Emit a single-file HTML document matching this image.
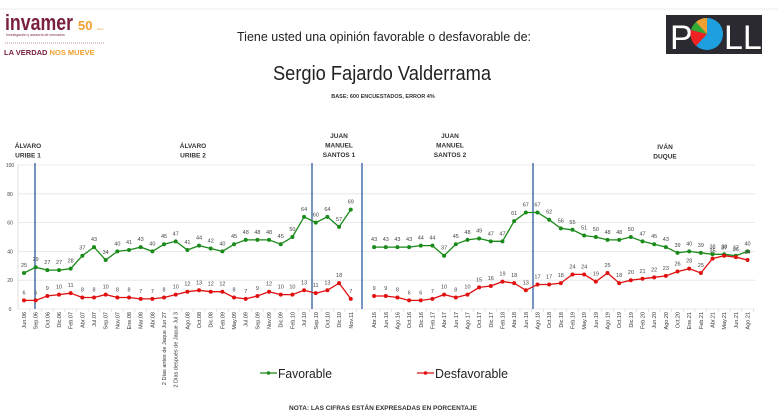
<!DOCTYPE html>
<html><head><meta charset="utf-8"><style>
body{margin:0;width:778px;height:420px;background:#fff;overflow:hidden;font-family:"Liberation Sans",sans-serif}
svg{position:absolute;left:0;top:0}
</style></head><body>
<svg id="s" width="778" height="420" xmlns="http://www.w3.org/2000/svg" font-family="Liberation Sans, sans-serif">
<line x1="0" y1="9" x2="778" y2="9" stroke="#eee"/>
<text x="5" y="30" font-size="22" fill="#7a1f3d" font-weight="bold" textLength="68" lengthAdjust="spacingAndGlyphs">invamer</text>
<text x="78" y="30" font-size="13" fill="#f0a030" font-weight="bold">50</text>
<text x="97" y="30" font-size="3" fill="#f0a030">años</text>
<text x="6" y="36" font-size="3.5" fill="#7a1f3d">Investigación y asesoría de mercados</text>
<line x1="5" y1="43" x2="105" y2="43" stroke="#7a1f3d" stroke-dasharray="1,1" stroke-width="0.6"/>
<text x="4" y="55" font-size="7.5" font-weight="bold" fill="#7a1f3d">LA VERDAD <tspan fill="#f0a030">NOS MUEVE</tspan></text>
<rect x="666" y="15" width="96" height="39" fill="#2a2a30"/>
<text x="670" y="49" font-size="34" fill="#fff">P</text>
<circle cx="707" cy="34" r="16" fill="#1ea0e0"/>
<path d="M707 34 L707 18 A16 16 0 0 0 696 22Z" fill="#f0a030"/>
<path d="M707 34 L696 22 A16 16 0 0 0 691 30Z" fill="#3a3"/>
<path d="M707 34 L691 30 A16 16 0 0 0 696 46Z" fill="#e22"/>
<text x="724" y="49" font-size="34" fill="#fff">LL</text>
<text x="384" y="41" font-size="13" text-anchor="middle" fill="#222" textLength="294" lengthAdjust="spacingAndGlyphs">Tiene usted una opinión favorable o desfavorable de:</text>
<text x="382" y="80" font-size="20" text-anchor="middle" fill="#222" textLength="218" lengthAdjust="spacingAndGlyphs">Sergio Fajardo Valderrama</text>
<text x="383" y="98" font-size="5.5" font-weight="bold" text-anchor="middle" fill="#333">BASE: 600 ENCUESTADOS, ERROR 4%</text>
<g id="g"></g>
<line x1="260" y1="373" x2="277" y2="373" stroke="#1a8a1a" stroke-width="1.2"/><circle cx="268.5" cy="373" r="1.8" fill="#1a8a1a"/>
<text x="278" y="378" font-size="13" fill="#222" textLength="54" lengthAdjust="spacingAndGlyphs">Favorable</text>
<line x1="417" y1="373" x2="434" y2="373" stroke="#e01010" stroke-width="1.2"/><circle cx="425.5" cy="373" r="1.8" fill="#e01010"/>
<text x="435" y="378" font-size="13" fill="#222" textLength="73" lengthAdjust="spacingAndGlyphs">Desfavorable</text>
<text x="383" y="410" font-size="6.5" font-weight="bold" text-anchor="middle" fill="#333">NOTA: LAS CIFRAS ESTÁN EXPRESADAS EN PORCENTAJE</text>
</svg>
<script>
var g=document.getElementById('g'),h='';
function Y(v){return 309-1.44*v}
function X(i){return 24+i*11.67}
for(var v=0;v<=100;v+=20){h+='<line x1="18" x2="755" y1="'+Y(v)+'" y2="'+Y(v)+'" stroke="#e4e4e4" stroke-width="0.8"/><text x="10" y="'+(Y(v)+2)+'" font-size="5" text-anchor="middle" fill="#444">'+v+'</text>';}
h+='<line x1="18" x2="18" y1="165" y2="309" stroke="#ccc" stroke-width="0.6"/>';
[35,312,362,533].forEach(function(x){h+='<line x1="'+x+'" x2="'+x+'" y1="163" y2="309" stroke="#2a5aa0" stroke-width="1.3"/>'});
var per=[[28,['ÁLVARO','URIBE 1'],146],[193,['ÁLVARO','URIBE 2'],146],[339,['JUAN','MANUEL','SANTOS 1'],136],[450,['JUAN','MANUEL','SANTOS 2'],136],[665,['IVÁN','DUQUE'],147]];
per.forEach(function(p){p[1].forEach(function(t,k){h+='<text x="'+p[0]+'" y="'+(p[2]+k*9.5+2)+'" font-size="6.5" font-weight="bold" text-anchor="middle" fill="#333">'+t+'</text>'})});
var lab=['Jun.06','Sep.06','Oct.06','Dic.06','Feb.07','Abr.07','Jul.07','Sep.07','Nov.07','Ene.08','Mar.08','Abr.08','2 Días antes de Jaque Jun 27','2 Días después de Jaque Jul 3','Ago.08','Oct.08','Dic.08','Feb.09','May.09','Jul.09','Sep.09','Nov.09','Dic.09','Feb.10','Jul.10','Sep.10','Oct.10','Dic.10','Nov.11','',
'Abr.16','Jun.16','Ago.16','Oct.16','Dic.16','Feb.17','Abr.17','Jun.17','Ago.17','Oct.17','Dic.17','Feb.18','Abr.18','Jun.18','Ago.18','Oct.18','Dic.18','Feb.19','May.19','Jun.19','Ago.19','Oct.19','Dic.19','Feb.20','Jun.20','Ago.20','Oct.20','Ene.21','Feb.21','Abr.21','May.21','Jun.21','Ago.21'];
var F=[25,29,27,27,28,37,43,34,40,41,43,40,45,47,41,44,42,40,45,48,48,48,45,50,64,60,64,57,69,null,43,43,43,43,44,44,37,45,48,49,47,47,61,67,67,62,56,55,51,50,48,48,50,47,45,43,39,40,39,38,38,37,40];
var D=[6,6,9,10,11,8,8,10,8,8,7,7,8,10,12,13,12,12,8,7,9,12,10,10,13,11,13,18,7,null,9,9,8,6,6,7,10,8,10,15,16,19,18,13,17,17,18,24,24,19,25,18,20,21,22,23,26,28,25,35,37,36,34];
lab.forEach(function(l,i){if(!l)return;var x=X(i)+2;h+='<text transform="translate('+x+',312) rotate(-90)" font-size="5.5" text-anchor="end" fill="#333">'+l+'</text>';h+='<line x1="'+(X(i)+5.8)+'" x2="'+(X(i)+5.8)+'" y1="309" y2="312" stroke="#ccc" stroke-width="0.5"/>'});
function ser(a,c,off){[[0,29],[30,63]].forEach(function(r){var pts=[];for(var i=r[0];i<r[1];i++)pts.push(X(i).toFixed(1)+','+Y(a[i]).toFixed(1));h+='<polyline points="'+pts.join(' ')+'" fill="none" stroke="'+c+'" stroke-width="1.3"/>'});
a.forEach(function(v,i){if(v==null)return;h+='<circle cx="'+X(i)+'" cy="'+Y(v)+'" r="2" fill="'+c+'"/><text x="'+X(i)+'" y="'+(Y(v)+off)+'" font-size="5.5" text-anchor="middle" fill="#444">'+v+'</text>'});}
ser(F,'#1a8a1a',-6);ser(D,'#e01010',-6);
g.innerHTML=h;
</script>
</body></html>
